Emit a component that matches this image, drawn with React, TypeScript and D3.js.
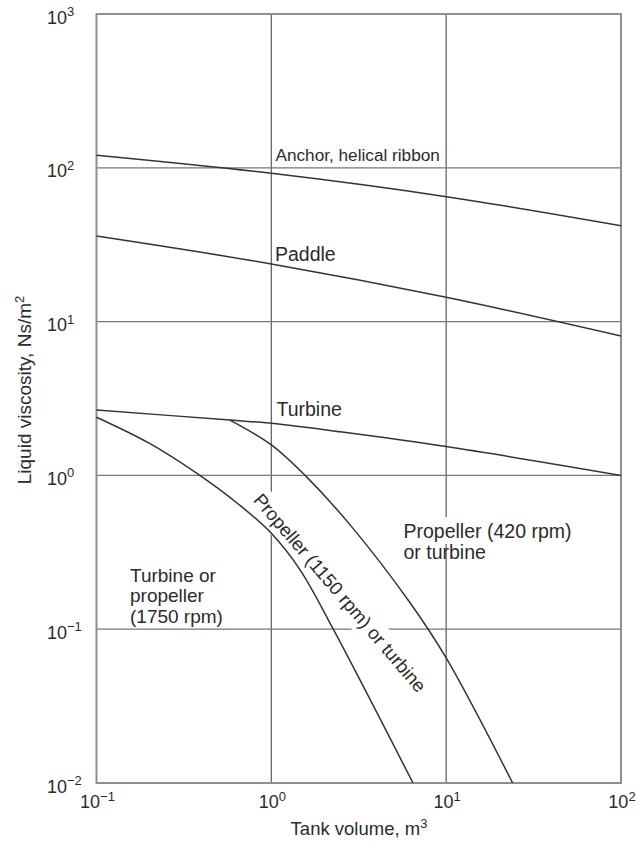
import * as d3 from "d3";

if (typeof document !== "undefined") document.body.style.margin = "0";

// ticks (decades)
const xTicks = [0.1, 1, 10, 100];
const yTicks = [0.01, 0.1, 1, 10, 100, 1000];

// curves (tank volume m3 -> viscosity Ns/m2)
const anchorX = [0.1, 1, 10, 100];
const anchorY = [120.6, 92, 64.9, 42];

const paddleX = [0.1, 1, 10, 100];
const paddleY = [36, 23.7, 14.4, 8.06];

const turbineX = [0.1, 0.58, 1, 2.48, 10, 100];
const turbineY = [2.66, 2.29, 2.18, 1.92, 1.54, 1.0];

const prop1150X = [0.58, 1.0, 1.56, 2.83, 6.23, 10, 24];
const prop1150Y = [2.29, 1.58, 1.0, 0.475, 0.148, 0.065, 0.01];

const prop1750X = [0.1, 0.2, 0.39, 0.66, 1.0, 1.46, 2.26, 6.46];
const prop1750Y = [2.39, 1.62, 1.0, 0.64, 0.42, 0.243, 0.1, 0.01];

const series = [
  { name: "anchor", xs: anchorX, ys: anchorY },
  { name: "paddle", xs: paddleX, ys: paddleY },
  { name: "turbine", xs: turbineX, ys: turbineY },
  { name: "prop1150", xs: prop1150X, ys: prop1150Y },
  { name: "prop1750", xs: prop1750X, ys: prop1750Y },
];

const width = 636;
const height = 843;
const margin = { top: 14, right: 15, bottom: 60, left: 96.5 };

const font = "'Liberation Sans', Arial, Helvetica, sans-serif";
const textColor = "#2b2b2b";

const supText = (v: number) => {
  const e = Math.round(Math.log10(v));
  return e < 0 ? "\u2212" + Math.abs(e) : String(e);
};

const App = () => {
  const x = d3.scaleLog().domain([0.1, 100]).range([margin.left, width - margin.right]);
  const y = d3.scaleLog().domain([0.01, 1000]).range([height - margin.bottom, margin.top]);

  const line = d3
    .line<[number, number]>()
    .x((d) => x(d[0]))
    .y((d) => y(d[1]))
    .curve(d3.curveCatmullRom.alpha(0.5));

  const [x0, x1] = x.range();
  const [y0, y1] = y.range();

  const rotLabel = "Propeller (1150 rpm) or turbine";
  const rotLen = 255;

  return (
    <svg width={width} height={height} style={{ display: "block" }} fontFamily={font}>
      <rect x={0} y={0} width={width} height={height} fill="#fff" />

      {/* grid */}
      {xTicks.slice(1, -1).map((t) => (
        <line key={"gx" + t} x1={x(t)} x2={x(t)} y1={y1} y2={y0} stroke="#666" strokeWidth={1.3} />
      ))}
      {yTicks.slice(1, -1).map((t) => (
        <line key={"gy" + t} x1={x0} x2={x1} y1={y(t)} y2={y(t)} stroke="#777" strokeWidth={1.3} />
      ))}

      {/* label backgrounds that break the grid */}
      <g transform="translate(335,597) rotate(49.5)">
        <rect x={-rotLen / 2 - 4} y={-20} width={rotLen + 8} height={28} fill="#fff" />
      </g>
      <rect x={400} y={517} width={178} height={27} fill="#fff" />

      <rect x={x0} y={y1} width={x1 - x0} height={y0 - y1} fill="none" stroke="#8f8f8f" strokeWidth={2} />

      {/* curves */}
      {series.map((s) => (
        <path
          key={s.name}
          d={line(s.xs.map((v, i) => [v, s.ys[i]] as [number, number])) || ""}
          fill="none"
          stroke="#333"
          strokeWidth={1.5}
        />
      ))}

      {/* y ticks */}
      {yTicks.map((t) => (
        <text key={"ty" + t} x={47} y={y(t) + 9.5} fontSize={18} fill={textColor}>
          10
          <tspan fontSize={13} dy={-7.5}>
            {supText(t)}
          </tspan>
        </text>
      ))}

      {/* x ticks */}
      {xTicks.map((t) => (
        <text key={"tx" + t} x={x(t) + 1} y={808} fontSize={18} textAnchor="middle" fill={textColor}>
          10
          <tspan fontSize={13} dy={-7.5}>
            {supText(t)}
          </tspan>
        </text>
      ))}

      {/* axis titles */}
      <text x={359} y={835} fontSize={18.5} textAnchor="middle" fill={textColor}>
        Tank volume, m
        <tspan fontSize={13} dy={-7.5}>
          3
        </tspan>
      </text>
      <text transform="translate(31,390) rotate(-90)" fontSize={19} textAnchor="middle" fill={textColor}>
        Liquid viscosity, Ns/m
        <tspan fontSize={13} dy={-7.5}>
          2
        </tspan>
      </text>

      {/* curve labels */}
      <text x={275.5} y={160.5} fontSize={17.2} fill={textColor}>
        Anchor, helical ribbon
      </text>
      <text x={275} y={260.5} fontSize={19.5} fill={textColor}>
        Paddle
      </text>
      <text x={276.5} y={416} fontSize={19.5} fill={textColor}>
        Turbine
      </text>
      <text fontSize={19} fill={textColor}>
        <tspan x={130} y={581.7}>Turbine or</tspan>
        <tspan x={130} y={602.3}>propeller</tspan>
        <tspan x={130} y={622.5}>(1750 rpm)</tspan>
      </text>
      <text fontSize={19.5} fill={textColor}>
        <tspan x={403.5} y={538.3}>Propeller (420 rpm)</tspan>
        <tspan x={403.5} y={558.5}>or turbine</tspan>
      </text>
      <text transform="translate(335,597) rotate(49.5)" fontSize={18.7} textAnchor="middle" fill={textColor}>
        {rotLabel}
      </text>
    </svg>
  );
};

export default App;
